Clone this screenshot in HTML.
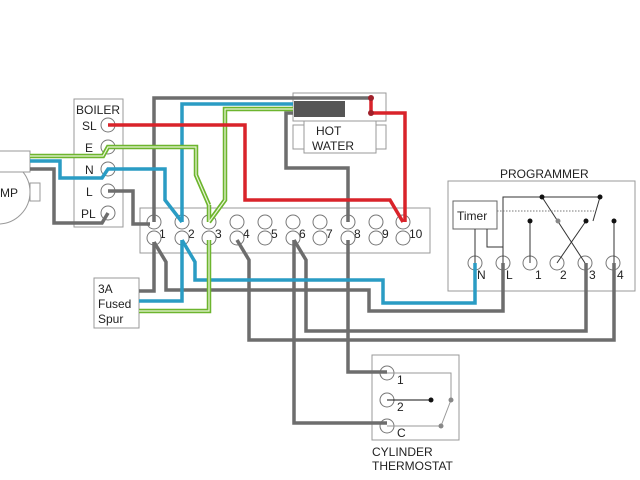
<!DOCTYPE html>
<html><head><style>body{margin:0;background:#fff}svg{display:block}text{font-family:"Liberation Sans",sans-serif;fill:#222}</style></head><body>
<svg width="640" height="480" viewBox="0 0 640 480" xmlns="http://www.w3.org/2000/svg">
<g fill="none" stroke="#999" stroke-width="1">
<rect x="74" y="99" width="49" height="128" fill="#fff"/>
<rect x="140" y="208" width="290" height="45"/>
<rect x="293" y="93" width="93" height="28"/>
<rect x="293" y="125" width="93" height="24"/>
<rect x="304" y="121" width="72" height="32" fill="#fff"/>
<rect x="448" y="181" width="187" height="110"/>
<rect x="453" y="201" width="44" height="28" stroke="#666"/>
<rect x="94" y="278" width="45" height="50"/>
<rect x="372" y="355" width="87" height="85"/>
<rect x="-5" y="151" width="35" height="21"/>
<circle cx="-2" cy="192" r="32"/>
<rect x="30" y="183" width="10" height="18"/>
</g>
<rect x="-5" y="151" width="35" height="21" fill="#fff" stroke="#999"/>
<rect x="294" y="101" width="51" height="16" fill="#555"/>
<g font-size="12">
<text x="76" y="114">BOILER</text>
<text x="82" y="130">SL</text><text x="85" y="152">E</text><text x="85" y="174">N</text><text x="86" y="196">L</text><text x="81" y="218">PL</text>
<text x="0" y="197">MP</text>
<text x="316" y="135">HOT</text><text x="312" y="150">WATER</text>
<text x="500" y="178">PROGRAMMER</text>
<text x="457" y="220">Timer</text>
<text x="98" y="293">3A</text><text x="98" y="308">Fused</text><text x="98" y="323">Spur</text>
<text x="372" y="456">CYLINDER</text><text x="372" y="470">THERMOSTAT</text>
<text x="477" y="279">N</text><text x="506" y="279">L</text><text x="535" y="279">1</text><text x="560" y="279">2</text><text x="589" y="279">3</text><text x="617" y="279">4</text>
<text x="397" y="384">1</text><text x="397" y="411">2</text><text x="397" y="437">C</text>
</g>
<g font-size="12">
<text x="159" y="238">1</text><text x="188" y="238">2</text><text x="215" y="238">3</text><text x="243" y="238">4</text><text x="271" y="238">5</text><text x="299" y="238">6</text><text x="326" y="238">7</text><text x="354" y="238">8</text><text x="382" y="238">9</text><text x="409" y="238">10</text>
</g>
<g fill="#fff" stroke="#777" stroke-width="1">
<circle cx="108" cy="125" r="7"/><circle cx="108" cy="147" r="7"/><circle cx="108" cy="169" r="7"/><circle cx="108" cy="191" r="7"/><circle cx="108" cy="213" r="7"/>
<circle cx="154" cy="222" r="7"/><circle cx="154" cy="238" r="7"/>
<circle cx="182" cy="222" r="7"/><circle cx="182" cy="238" r="7"/>
<circle cx="209" cy="222" r="7"/><circle cx="209" cy="238" r="7"/>
<circle cx="237" cy="222" r="7"/><circle cx="237" cy="238" r="7"/>
<circle cx="265" cy="222" r="7"/><circle cx="265" cy="238" r="7"/>
<circle cx="293" cy="222" r="7"/><circle cx="293" cy="238" r="7"/>
<circle cx="320" cy="222" r="7"/><circle cx="320" cy="238" r="7"/>
<circle cx="348" cy="222" r="7"/><circle cx="348" cy="238" r="7"/>
<circle cx="376" cy="222" r="7"/><circle cx="376" cy="238" r="7"/>
<circle cx="403" cy="222" r="7"/><circle cx="403" cy="238" r="7"/>
<circle cx="475" cy="263" r="7"/><circle cx="503" cy="263" r="7"/><circle cx="530" cy="263" r="7"/><circle cx="557" cy="263" r="7"/><circle cx="585" cy="263" r="7"/><circle cx="613" cy="263" r="7"/>
<circle cx="387" cy="373" r="7"/><circle cx="387" cy="400" r="7"/><circle cx="387" cy="426" r="7"/>
</g>
<!-- gray wires -->
<g fill="none" stroke="#6d6d6d" stroke-width="3.5" stroke-linejoin="miter">
<polyline points="371,98 154,98 154,222"/>
<polyline points="108,191 133,191 133,224 150,224"/>
<polyline points="30,169 54,169 54,223 102,223 108,213"/>
<polyline points="293,113 286,113 286,168 348,168 348,222"/>
<polyline points="154,242 166,262 166,290 369,290 369,311 503,311 503,263"/>
<polyline points="139,291 154,291 154,242"/>
<polyline points="237,240 249,260 249,340 614,340 614,263"/>
<polyline points="294,240 294,423 387,423"/>
<polyline points="294,240 306,260 306,331 586,331 586,263"/>
<polyline points="348,240 348,372 387,372"/>
</g>
<!-- blue -->
<g fill="none" stroke="#2a9cc4" stroke-width="3.5">
<polyline points="30,161 60,161 60,178 102,178 108,169 165,169 165,200 182,222"/>
<polyline points="293,104 182,104 182,222"/>
<polyline points="182,240 195,262 195,280 383,280 383,303 475,303 475,263"/>
<polyline points="139,301 182,301 182,240"/>
</g>
<!-- green double -->
<g fill="none" stroke="#6db52e" stroke-width="4.5">
<polyline points="30,156 103,156 108,147 196,147 196,175 209,205"/>
<polyline points="293,109 225,109 225,200 209,222"/>
<polyline points="139,311 209,311 209,240"/>
<polyline points="209,205 209,222"/>
</g>
<g fill="none" stroke="#eaf5d8" stroke-width="1.2">
<polyline points="30,156 103,156 108,147 196,147 196,175 209,205 209,222"/>
<polyline points="293,109 225,109 225,200 209,222"/>
<polyline points="139,311 209,311 209,240"/>
</g>
<!-- red -->
<g fill="none" stroke="#d9232a" stroke-width="3.5">
<polyline points="108,125 245,125 245,200 390,200 403,222"/>
<polyline points="371,98 371,113 405,113 405,222"/>
</g>
<circle cx="371" cy="98" r="3" fill="#a0202a"/><circle cx="371" cy="113" r="3" fill="#a0202a"/>
<!-- programmer internals -->
<g fill="none" stroke="#333" stroke-width="1">
<line x1="475" y1="229" x2="475" y2="263"/>
<polyline points="487,229 487,247 503,247 503,263"/>
<polyline points="503,247 503,197 542,197 600,197"/>
<line x1="542" y1="197" x2="585" y2="263"/>
<line x1="530" y1="221" x2="530" y2="263"/>
<line x1="586" y1="221" x2="557" y2="263"/>
<line x1="600" y1="197" x2="593" y2="221"/>
<line x1="614" y1="221" x2="614" y2="263"/>
<line x1="497" y1="211" x2="594" y2="211" stroke-dasharray="1.5,1.5" stroke="#777"/>
</g>
<g fill="#111"><circle cx="542" cy="197" r="2.5"/><circle cx="600" cy="197" r="2.5"/><circle cx="530" cy="221" r="2.5"/><circle cx="586" cy="221" r="2.5"/><circle cx="614" cy="221" r="2.5"/></g>
<circle cx="558" cy="221" r="2.5" fill="#888"/>
<!-- thermostat internals -->
<g fill="none" stroke="#999" stroke-width="1">
<polyline points="387,373 451,373 451,400"/>
<line x1="441" y1="426" x2="451" y2="400"/>
<line x1="387" y1="426" x2="441" y2="426"/>
</g>
<line x1="387" y1="400" x2="431" y2="400" stroke="#111" stroke-width="1"/>
<circle cx="431" cy="400" r="2.5" fill="#111"/>
<circle cx="451" cy="400" r="2.5" fill="#888"/><circle cx="441" cy="426" r="2.5" fill="#888"/>
</svg>
</body></html>
